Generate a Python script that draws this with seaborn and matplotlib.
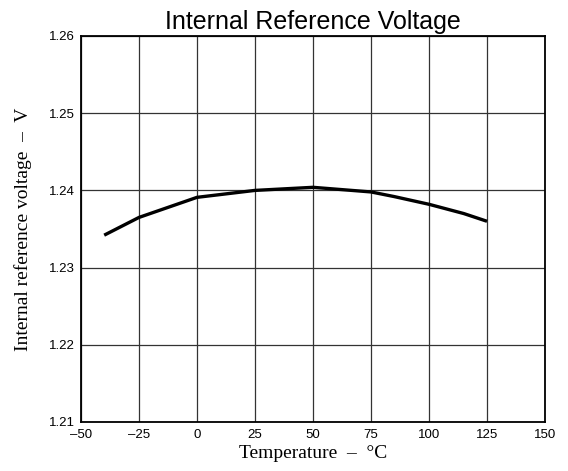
import matplotlib
matplotlib.use("Agg")
import matplotlib.pyplot as plt
import seaborn as sns
import pandas as pd

# Internal reference voltage versus temperature
temperature_c = [-40, -25, 0, 25, 50, 75, 85, 100, 115, 125]
vref_v = [1.2342, 1.2365, 1.2391, 1.2400, 1.2404, 1.2398, 1.2392, 1.2382, 1.2370, 1.2360]

x_ticks = [-50, -25, 0, 25, 50, 75, 100, 125, 150]
x_tick_labels = ["\u201350", "\u201325", "0", "25", "50", "75", "100", "125", "150"]
y_ticks = [1.21, 1.22, 1.23, 1.24, 1.25, 1.26]
y_tick_labels = ["1.21", "1.22", "1.23", "1.24", "1.25", "1.26"]

df = pd.DataFrame({"temperature": temperature_c, "vref": vref_v})

sns.set_theme(style="white")
plt.rcParams["font.family"] = ["Liberation Sans", "DejaVu Sans"]

fig = plt.figure(figsize=(5.68, 4.71), dpi=100)
ax = fig.add_axes([81 / 568, 1 - 422 / 471, 464 / 568, 386 / 471])

sns.lineplot(data=df, x="temperature", y="vref", ax=ax, color="black",
             linewidth=2.4, solid_capstyle="butt")

ax.set_xlim(-50, 150)
ax.set_ylim(1.21, 1.26)
ax.set_xticks(x_ticks)
ax.set_xticklabels(x_tick_labels)
ax.set_yticks(y_ticks)
ax.set_yticklabels(y_tick_labels)
ax.tick_params(axis="both", length=0, labelsize=9.5, colors="black")
ax.tick_params(axis="x", pad=5)
ax.tick_params(axis="y", pad=4.5)
ax.grid(True, color="#333333", linewidth=0.9)
ax.set_axisbelow(True)
for s in ax.spines.values():
    s.set_color("black")
    s.set_linewidth(1.3)

ax.set_title("Internal Reference Voltage", fontsize=18, pad=5, color="black")
serif = ["Liberation Serif", "DejaVu Serif"]
ax.set_xlabel("Temperature  \u2013  \u00b0C", fontsize=14, family=serif,
              color="black", labelpad=3)
ax.set_ylabel("Internal reference voltage  \u2013  V", fontsize=14, family=serif,
              color="black", labelpad=12)

fig.savefig("out.png", dpi=100)
